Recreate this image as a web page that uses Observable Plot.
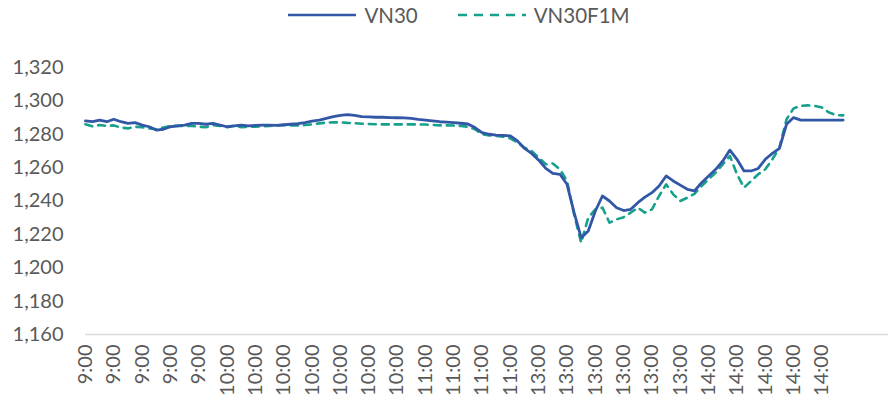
<!DOCTYPE html>
<html>
<head>
<meta charset="utf-8">
<script src="https://cdn.jsdelivr.net/npm/d3@7"></script>
<script src="https://cdn.jsdelivr.net/npm/@observablehq/plot@0.6"></script>
<style>
  html, body { margin: 0; padding: 0; background: #fff; }
  #wrap { width: 888px; font-family: Lato, "Liberation Sans", sans-serif; }
  #legend { height: 30px; display: flex; justify-content: center; align-items: center; font-size: 20.5px; color: #595959; padding-left: 30px; box-sizing: border-box; }
  .item { display: flex; align-items: center; margin: 0 20px; }
  .item svg { margin-right: 8px; }
</style>
</head>
<body>
<div id="wrap">
  <div id="legend"></div>
  <div id="chart"></div>
</div>
<script>
const seriesNames = ["VN30", "VN30F1M"];
const seriesColors = ["#3157A6", "#17A08C"];

const vn30 = [
  1288, 1287.5, 1288.5, 1287.5, 1289, 1287.5, 1286.5, 1287, 1285.5, 1284.5,
  1282.5, 1283, 1284.5, 1285, 1285.5, 1286.5, 1286.5, 1286, 1286.5, 1285.5,
  1284.5, 1285, 1285.5, 1285, 1285.3, 1285.5, 1285.5, 1285.3, 1285.7, 1286,
  1286.3, 1287, 1287.8, 1288.5, 1289.5, 1290.5, 1291.3, 1291.8, 1291.3, 1290.6,
  1290.4, 1290.2, 1290.2, 1290, 1289.9, 1289.8, 1289.5, 1288.9, 1288.5, 1288,
  1287.5, 1287.3, 1287, 1286.6, 1286.2, 1284, 1281, 1280, 1279.5, 1279.3,
  1279, 1276, 1271.5, 1268.5, 1264.5, 1259.5, 1256.5, 1256, 1250, 1233,
  1218, 1222, 1234, 1243, 1240, 1236, 1234.3, 1235, 1239, 1242.3,
  1245, 1249, 1255, 1252, 1249.5, 1247, 1246, 1251, 1255, 1259,
  1264, 1270.5, 1265, 1258, 1258, 1259.5, 1265, 1268.5, 1271.5, 1286,
  1290, 1288.5, 1288.5, 1288.5, 1288.5, 1288.5, 1288.5, 1288.5
];

const vn30f1m = [
  1286, 1284.7, 1285.5, 1285, 1285.3, 1284, 1283.5, 1284.5, 1284.2, 1283.5,
  1283, 1284, 1285, 1285, 1285, 1285, 1284.5, 1284.2, 1285.5, 1285,
  1284.2, 1285, 1284.2, 1284.5, 1284.5, 1284.8, 1285, 1285.2, 1285.4, 1285.3,
  1285.3, 1285.5, 1285.9, 1286.5, 1287, 1287.1, 1287.1, 1286.8, 1286.6, 1286.3,
  1286.1, 1286, 1285.9, 1285.9, 1285.9, 1285.9, 1285.9, 1285.9, 1285.8, 1285.6,
  1285.3, 1285.3, 1285.2, 1285, 1284.5, 1283, 1280, 1279.3, 1279, 1278.5,
  1277.5, 1275, 1272, 1270, 1266, 1262, 1262.5, 1259, 1252, 1232,
  1215, 1230, 1235, 1236, 1227, 1229, 1230.3, 1233, 1236, 1233,
  1235, 1243, 1250, 1244, 1240, 1242, 1244.3, 1249, 1253, 1257,
  1262, 1267, 1256, 1248, 1252, 1256, 1259, 1265, 1272, 1289,
  1295.5, 1297, 1297.3, 1297, 1296, 1293, 1291.5, 1291.3
];

const xTickLabels = [
  "9:00", "9:00", "9:00", "9:00", "9:00",
  "10:00", "10:00", "10:00", "10:00", "10:00", "10:00", "10:00",
  "11:00", "11:00", "11:00", "11:00",
  "13:00", "13:00", "13:00", "13:00", "13:00", "13:00",
  "14:00", "14:00", "14:00", "14:00", "14:00"
];
const pointsPerLabel = 4;
const yTicks = [1160, 1180, 1200, 1220, 1240, 1260, 1280, 1300, 1320];

// Legend
const legend = document.getElementById("legend");
seriesNames.forEach((name, k) => {
  const item = document.createElement("div");
  item.className = "item";
  const dash = k === 1 ? ' stroke-dasharray="9,7"' : '';
  item.innerHTML = `<svg width="68" height="6"><line x1="0" y1="3" x2="68" y2="3" stroke="${seriesColors[k]}" stroke-width="2.5"${dash}/></svg><span>${name}</span>`;
  legend.appendChild(item);
});

const data = [];
vn30.forEach((v, i) => data.push({ i, v, s: seriesNames[0] }));
vn30f1m.forEach((v, i) => data.push({ i, v, s: seriesNames[1] }));

const tickIdx = xTickLabels.map((_, k) => k * pointsPerLabel);
const fmt = d3.format(",");

const chart = Plot.plot({
  width: 888,
  height: 373,
  marginTop: 37,
  marginBottom: 69,
  marginLeft: 85,
  marginRight: 0,
  style: { fontFamily: "Lato, 'Liberation Sans', sans-serif", color: "#595959", background: "#fff" },
  x: { domain: [0, 113.4], label: null },
  y: { domain: [1160, 1320], label: null },
  marks: [
    Plot.ruleY([1160], { stroke: "#d9d9d9", strokeWidth: 1.5 }),
    Plot.axisY({ ticks: yTicks, tickFormat: fmt, tickSize: 0, tickPadding: 22, fontSize: 20, fill: "#595959", label: null }),
    Plot.axisX({ ticks: tickIdx, tickFormat: (d) => xTickLabels[d / pointsPerLabel], tickRotate: -90, tickSize: 0, tickPadding: 10, fontSize: 20, fill: "#595959", label: null }),
    Plot.line(data.filter(d => d.s === seriesNames[1]), { x: "i", y: "v", stroke: seriesColors[1], strokeWidth: 2.6, strokeDasharray: "7,6" }),
    Plot.line(data.filter(d => d.s === seriesNames[0]), { x: "i", y: "v", stroke: seriesColors[0], strokeWidth: 2.8 })
  ]
});
document.getElementById("chart").appendChild(chart);
</script>
</body>
</html>
